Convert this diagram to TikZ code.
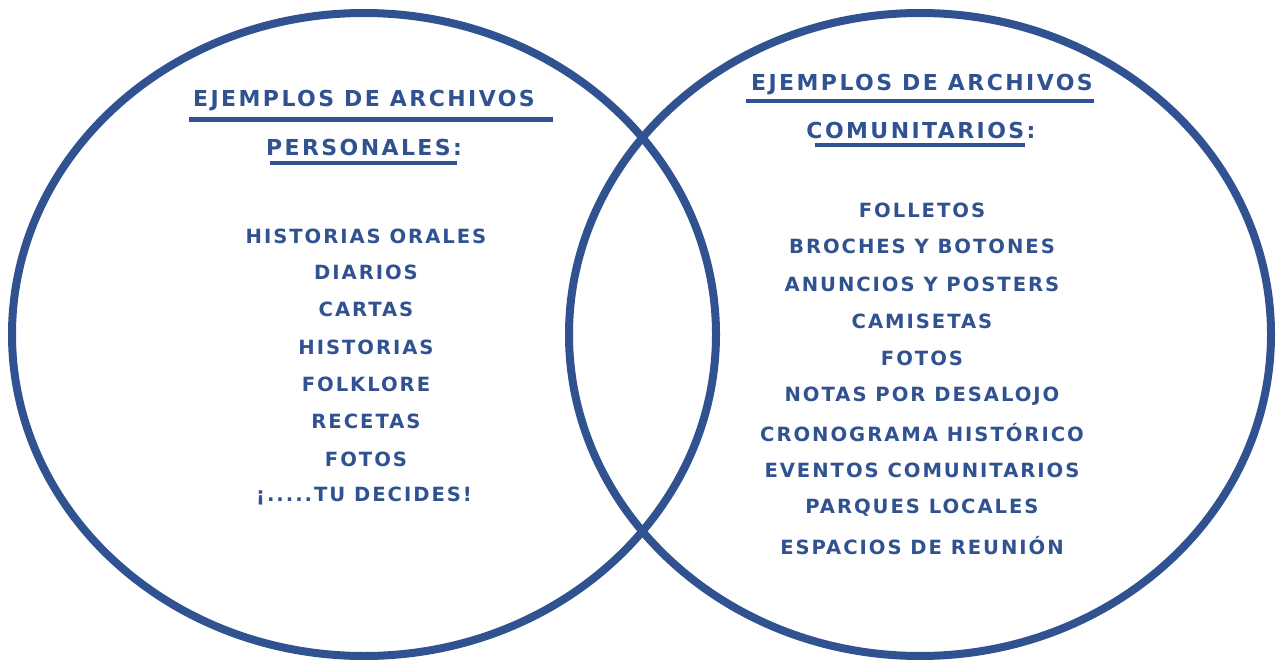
\documentclass[tikz,border=0pt]{standalone}
\usepackage{fontspec}
\newfontfamily\comic[LetterSpace=10]{DejaVu Sans}
\newfontfamily\comichead[LetterSpace=11]{DejaVu Sans}
\definecolor{vblue}{RGB}{49,82,145}
\begin{document}
\begin{tikzpicture}[x=1pt,y=-1pt,
  ring/.style={draw=vblue,line width=8pt},
  uline/.style={draw=vblue,line width=4.5pt},
  head/.style={text=vblue,font=\comichead\bfseries\fontsize{22}{22}\selectfont,anchor=center,inner sep=0pt},
  item/.style={text=vblue,font=\comic\bfseries\fontsize{19.6}{19.6}\selectfont,anchor=center,inner sep=0pt}]
\useasboundingbox (0,0) rectangle (1279,660);
\draw[ring] (364,334.5) ellipse [x radius=352pt, y radius=321.5pt];
\draw[ring] (920,334.5) ellipse [x radius=351pt, y radius=321.5pt];
% left headers
\node[head] (lh1) at (364,101) {EJEMPLOS DE ARCHIVOS};
\node[head] (lh2) at (364,147) {PERSONALES:};
\draw[uline] (189,119.5) -- (553,119.5);
\draw[uline] (270,163) -- (457,163);
% right headers
\node[head] (rh1) at (922,85) {EJEMPLOS DE ARCHIVOS};
\node[head] (rh2) at (921,130) {COMUNITARIOS:};
\draw[uline] (746,101) -- (1094,101);
\draw[uline] (815,145) -- (1025,145);
% left items
\node[item] (l1) at (366,236) {HISTORIAS ORALES};
\node[item] (l2) at (366,272) {DIARIOS};
\node[item] (l3) at (366,309) {CARTAS};
\node[item] (l4) at (366,347) {HISTORIAS};
\node[item] (l5) at (366,384) {FOLKLORE};
\node[item] (l6) at (366,421) {RECETAS};
\node[item] (l7) at (366,459) {FOTOS};
\node[item] (l8) at (364,496) {¡.....TU DECIDES!};
% right items
\node[item] (r1) at (922,210) {FOLLETOS};
\node[item] (r2) at (922,246) {BROCHES Y BOTONES};
\node[item] (r3) at (922,284) {ANUNCIOS Y POSTERS};
\node[item] (r4) at (922,321) {CAMISETAS};
\node[item] (r5) at (922,358) {FOTOS};
\node[item] (r6) at (922,396) {NOTAS POR DESALOJO};
\node[item] (r7) at (922,433) {CRONOGRAMA HISTÓRICO};
\node[item] (r8) at (922,470) {EVENTOS COMUNITARIOS};
\node[item] (r9) at (922,508) {PARQUES LOCALES};
\node[item] (r10) at (922,546) {ESPACIOS DE REUNIÓN};
\end{tikzpicture}
\end{document}
